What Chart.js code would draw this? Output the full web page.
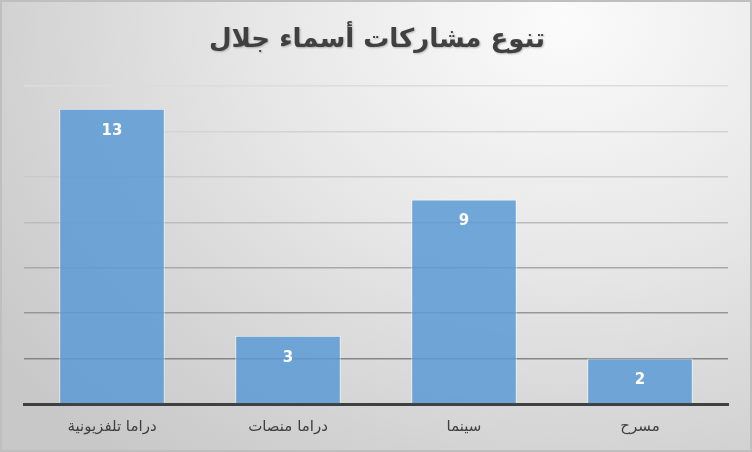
<!DOCTYPE html>
<html>
<head>
<meta charset="utf-8">
<script src="https://cdn.jsdelivr.net/npm/chart.js@4"></script>
<style>
html,body{margin:0;padding:0;}
#wrap{position:relative;width:752px;height:452px;box-sizing:border-box;border:2px solid #bfbfbf;
background:radial-gradient(ellipse 700px 560px at 560px 20px,#fbfbfb 0%,#e6e6e6 45%,#d2d2d2 80%,#c8c8c8 100%);}
canvas{position:absolute;left:-2px;top:-2px;}
</style>
</head>
<body>
<div id="wrap"><canvas id="c" width="752" height="452"></canvas></div>
<script>
const titleText = 'تنوع مشاركات أسماء جلال';
const categories = ['دراما تلفزيونية', 'دراما منصات', 'سينما', 'مسرح'];
const values = [13, 3, 9, 2];
const yTicks = [0, 2, 4, 6, 8, 10, 12, 14];
const gridColors = {0:'rgba(0,0,0,0)',2:'#858585',4:'#979797',6:'#a9a9a9',8:'#bcbcbc',10:'#cacaca',12:'#d4d4d4',14:'#dcdcdc'};

const labelPlugin = {
  id: 'barLabels',
  afterDatasetsDraw(chart) {
    const ctx = chart.ctx;
    const meta = chart.getDatasetMeta(0);
    ctx.save();
    ctx.fillStyle = '#ffffff';
    ctx.font = 'bold 15px "DejaVu Sans", "Liberation Sans", sans-serif';
    ctx.textAlign = 'center';
    ctx.textBaseline = 'middle';
    meta.data.forEach((bar, i) => {
      ctx.fillText(String(values[i]), bar.x, bar.y + 22);
    });
    ctx.restore();
  }
};
const titlePlugin = {
  id: 'customTitle',
  afterDraw(chart) {
    const ctx = chart.ctx;
    ctx.save();
    ctx.font = 'bold 26px "DejaVu Sans", sans-serif';
    ctx.textAlign = 'center';
    ctx.textBaseline = 'middle';
    ctx.direction = 'rtl';
    ctx.shadowColor = 'rgba(0,0,0,0.25)';
    ctx.shadowOffsetX = 1; ctx.shadowOffsetY = 1; ctx.shadowBlur = 2;
    ctx.fillStyle = '#404040';
    ctx.fillText(titleText, 377, 40);
    ctx.restore();
  }
};

new Chart(document.getElementById('c'), {
  type: 'bar',
  data: {
    labels: categories,
    datasets: [{
      data: values,
      backgroundColor: 'rgba(91,155,213,0.85)',
      borderColor: 'rgba(255,255,255,0.6)',
      borderWidth: 1,
      categoryPercentage: 0.6,
      barPercentage: 1.0
    }]
  },
  options: {
    responsive: false,
    animation: false,
    devicePixelRatio: 1,
    layout: { padding: { left: 24, right: 24, top: 86, bottom: 0 } },
    plugins: { legend: { display: false }, tooltip: { enabled: false }, title: { display: false } },
    scales: {
      x: {
        grid: { display: false, drawTicks: false },
        border: { display: true, color: '#404040', width: 3 },
        ticks: { color: '#404040', font: { size: 15, family: '"DejaVu Sans", sans-serif' }, padding: 14 },
        afterFit(s) { s.height = 48; }
      },
      y: {
        min: 0, max: 14,
        afterBuildTicks(s) { s.ticks = yTicks.map(v => ({ value: v })); },
        ticks: { display: false },
        border: { display: false },
        grid: { color: (c) => gridColors[c.tick.value] || '#bbb', lineWidth: 1.5, drawTicks: false },
        afterFit(s) { s.width = 0; }
      }
    }
  },
  plugins: [labelPlugin, titlePlugin]
});
</script>
</body>
</html>
